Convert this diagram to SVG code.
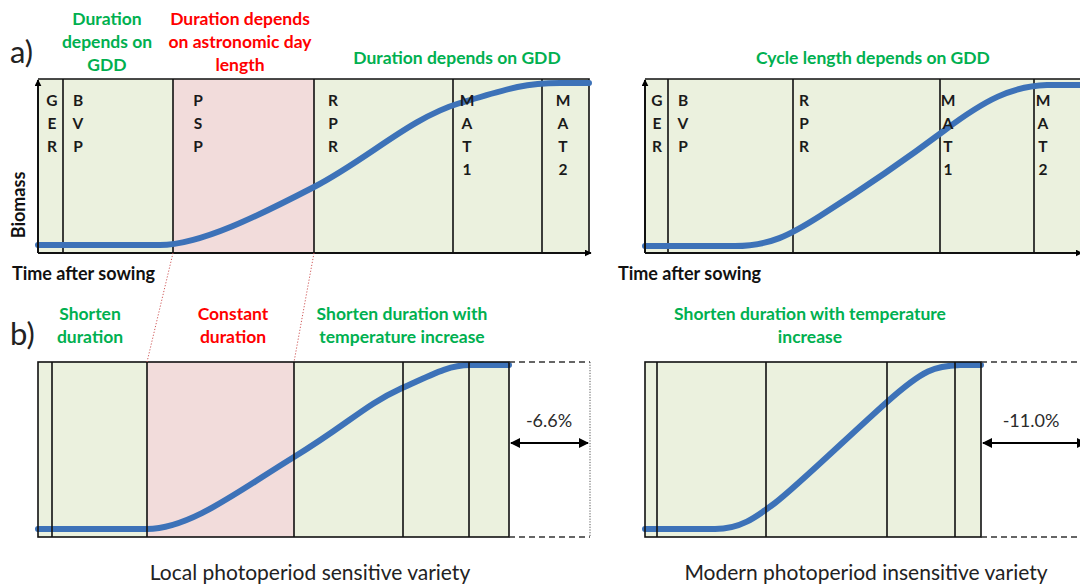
<svg xmlns="http://www.w3.org/2000/svg" width="1080" height="586" viewBox="0 0 1080 586">
<defs>
<style>
.hdr{font-family:Lato,"Liberation Sans",sans-serif;font-weight:700;font-size:17.5px;text-anchor:middle;}
.g{fill:#00B050;}
.r{fill:#FF0000;}
.stage{font-family:Lato,"Liberation Sans",sans-serif;font-weight:700;font-size:15.5px;fill:#1a1a1a;text-anchor:middle;}
.ax{font-family:Lato,"Liberation Sans",sans-serif;font-weight:700;font-size:18px;fill:#111;}
.lab{font-family:Lato,"Liberation Sans",sans-serif;font-size:31px;fill:#222;}
.pct{font-family:Lato,"Liberation Sans",sans-serif;font-size:18px;fill:#2b2b2b;text-anchor:middle;}
.cap{font-family:Lato,"Liberation Sans",sans-serif;font-size:21px;fill:#222;text-anchor:middle;}
.green{fill:#EBF1DE;}
.pink{fill:#F2DCDB;}
.div{stroke:#111;stroke-width:1.6;fill:none;}
.curve{stroke:#3D72B8;stroke-width:6;fill:none;stroke-linecap:round;stroke-linejoin:round;}
.axis{stroke:#111;stroke-width:2;fill:none;}
.dash{stroke:#333;stroke-width:1.6;stroke-dasharray:6 4;fill:none;}
.dot{stroke:#555;stroke-width:1;stroke-dasharray:1.2 1.5;fill:none;}
.rdot{stroke:#D05A5A;stroke-width:1;stroke-dasharray:1.2 1.8;fill:none;}
.dbl{stroke:#000;stroke-width:2;fill:none;marker-start:url(#ahs);marker-end:url(#ahe);}
</style>
<marker id="ahe" viewBox="0 0 10 10" refX="9" refY="5" markerWidth="5" markerHeight="5" markerUnits="strokeWidth" orient="auto"><path d="M0,0 L10,5 L0,10 z" fill="#000"/></marker>
<marker id="ahs" viewBox="0 0 10 10" refX="1" refY="5" markerWidth="5" markerHeight="5" markerUnits="strokeWidth" orient="auto"><path d="M10,0 L0,5 L10,10 z" fill="#000"/></marker>
<marker id="axh" viewBox="0 0 10 10" refX="9" refY="5" markerWidth="7" markerHeight="7" markerUnits="userSpaceOnUse" orient="auto"><path d="M0,0 L10,5 L0,10 z" fill="#000"/></marker>
</defs>
<rect width="1080" height="586" fill="#fff"/>

<!-- labels a) b) -->
<text class="lab" x="10" y="63">a)</text>
<text class="lab" x="10" y="345">b)</text>

<!-- headers top -->
<g id="hdr-top">
<text class="hdr g" x="107" y="25">Duration</text>
<text class="hdr g" x="107" y="48">depends on</text>
<text class="hdr g" x="107" y="71">GDD</text>
<text class="hdr r" x="240" y="25">Duration depends</text>
<text class="hdr r" x="240" y="48">on astronomic day</text>
<text class="hdr r" x="240" y="71">length</text>
<text class="hdr g" x="457" y="64">Duration depends on GDD</text>
<text class="hdr g" x="873" y="64">Cycle length depends on GDD</text>
</g>

<!-- Panel a left -->
<g id="panel-a-left">
<rect class="green" x="38" y="79" width="551" height="174"/>
<rect class="pink" x="173" y="79" width="141" height="174"/>
<path class="div" d="M38,79 H589 V253 M63,79 V253 M173,79 V253 M314,79 V253 M453,79 V253 M542,79 V253"/>
<path class="curve" d="M38,245 H160 C200,245 260,215 314,187 S 410,118 460,103 S 525,83 560,83 H589"/>
<g class="stage">
<text x="52" y="106">G</text><text x="52" y="129">E</text><text x="52" y="152">R</text>
<text x="78" y="106">B</text><text x="78" y="129">V</text><text x="78" y="152">P</text>
<text x="198" y="106">P</text><text x="198" y="129">S</text><text x="198" y="152">P</text>
<text x="333" y="106">R</text><text x="333" y="129">P</text><text x="333" y="152">R</text>
<text x="467" y="106">M</text><text x="467" y="129">A</text><text x="467" y="152">T</text><text x="467" y="175">1</text>
<text x="563" y="106">M</text><text x="563" y="129">A</text><text x="563" y="152">T</text><text x="563" y="175">2</text>
</g>
<path class="axis" d="M38,253 V80" marker-end="url(#axh)"/>
<path class="axis" d="M38,253 H591" marker-end="url(#axh)"/>
<text class="ax" x="0" y="0" text-anchor="middle" transform="translate(25,205) rotate(-90)">Biomass</text>
<text class="ax" x="12" y="280">Time after sowing</text>
</g>

<!-- Panel a right -->
<g id="panel-a-right">
<rect class="green" x="645" y="79" width="435" height="174"/>
<path class="div" d="M645,79 H1080 M668,79 V253 M793,79 V253 M940,79 V253 M1034,79 V253"/>
<path class="curve" d="M645,246 H735 C770,246 790,235 820,216 S 905,160 945,130 S 1012,86 1047,85 H1082"/>
<g class="stage">
<text x="657" y="106">G</text><text x="657" y="129">E</text><text x="657" y="152">R</text>
<text x="683" y="106">B</text><text x="683" y="129">V</text><text x="683" y="152">P</text>
<text x="804" y="106">R</text><text x="804" y="129">P</text><text x="804" y="152">R</text>
<text x="948" y="106">M</text><text x="948" y="129">A</text><text x="948" y="152">T</text><text x="948" y="175">1</text>
<text x="1043" y="106">M</text><text x="1043" y="129">A</text><text x="1043" y="152">T</text><text x="1043" y="175">2</text>
</g>
<path class="axis" d="M645,253 V80" marker-end="url(#axh)"/>
<path class="axis" d="M645,253 H1082" marker-end="url(#axh)"/>
<text class="ax" x="618" y="280">Time after sowing</text>
</g>

<!-- headers bottom -->
<g id="hdr-bottom">
<text class="hdr g" x="90" y="320">Shorten</text>
<text class="hdr g" x="90" y="343">duration</text>
<text class="hdr r" x="233" y="320">Constant</text>
<text class="hdr r" x="233" y="343">duration</text>
<text class="hdr g" x="402" y="320">Shorten duration with</text>
<text class="hdr g" x="402" y="343">temperature increase</text>
<text class="hdr g" x="810" y="320">Shorten duration with temperature</text>
<text class="hdr g" x="810" y="343">increase</text>
</g>

<!-- Panel b left -->
<g id="panel-b-left">
<rect class="green" x="38" y="362" width="471" height="175"/>
<rect class="pink" x="147" y="362" width="147" height="175"/>
<path class="curve" d="M38,529 H147 C190,529 240,490 294,457 S 365,405 400,389 S 450,365 470,365 H509"/>
<rect x="38" y="362" width="471" height="175" fill="none" stroke="#111" stroke-width="1.6"/>
<path class="div" d="M52,362 V537 M147,362 V537 M294,362 V537 M403,362 V537 M469,362 V537"/>
<path class="dash" d="M509,362 H590 M509,537 H590"/>
<path class="dot" d="M590,362 V537"/>
<text class="pct" x="549" y="427">-6.6%</text>
</g>

<!-- Panel b right -->
<g id="panel-b-right">
<rect class="green" x="645" y="362" width="336" height="175"/>
<path class="curve" d="M645,529 H715 C740,529 755,518 775,503 S 850,435 887,402 S 935,366 960,365 H981"/>
<rect x="645" y="362" width="336" height="175" fill="none" stroke="#111" stroke-width="1.6"/>
<path class="div" d="M657,362 V537 M766,362 V537 M887,362 V537 M955,362 V537"/>
<path class="dash" d="M981,362 H1080 M981,537 H1080"/>
<text class="pct" x="1031" y="427">-11.0%</text>
</g>

<!-- connectors -->
<g id="connectors">
<path class="rdot" d="M173,253 L147,362"/>
<path class="rdot" d="M314,253 L294,362"/>
<path class="dbl" d="M511,443 H588"/>
<path class="dbl" d="M983,443 H1086"/>
</g>

<!-- captions -->
<text class="cap" x="310" y="580">Local photoperiod sensitive variety</text>
<text class="cap" x="866" y="580">Modern photoperiod insensitive variety</text>
</svg>
